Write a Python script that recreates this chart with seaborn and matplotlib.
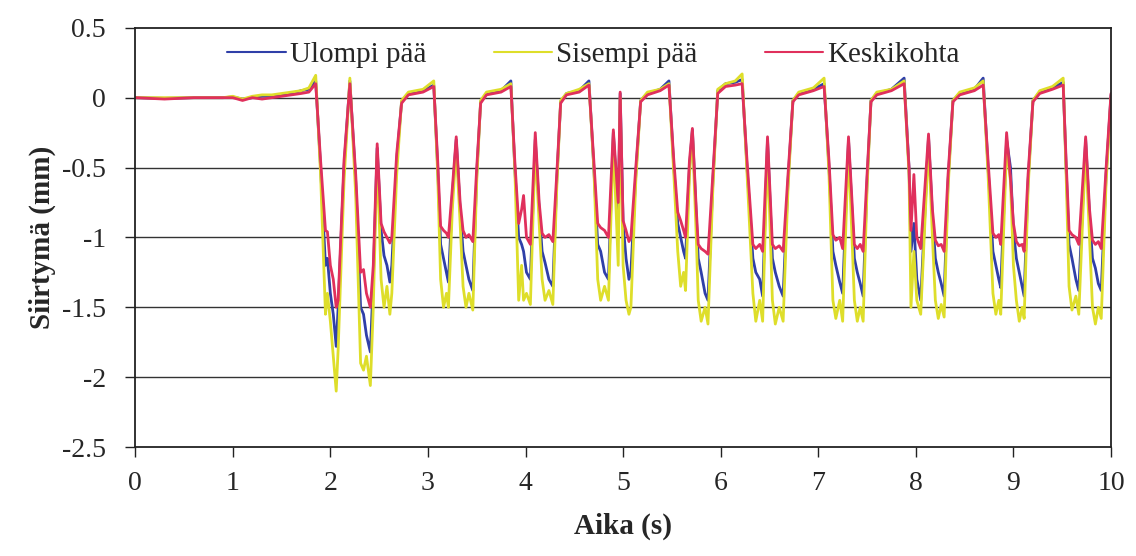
import pandas as pd
import numpy as np
import matplotlib
matplotlib.use('Agg')
import matplotlib.pyplot as plt
import seaborn as sns

# aika (s) ja siirtymät (mm), luettu kuvasta
aika = [0.0, 0.3, 0.6, 0.9, 1.0, 1.1, 1.2, 1.3, 1.4, 1.5, 1.6, 1.7, 1.78, 1.85,
        1.90, 1.95, 1.97, 2.00, 2.03, 2.06, 2.08, 2.14, 2.20,
        2.26, 2.31, 2.34, 2.37, 2.41, 2.44, 2.48, 2.52, 2.55, 2.58, 2.61, 2.63, 2.68, 2.73, 2.80, 2.95, 3.06,
        3.10, 3.13, 3.16, 3.19, 3.21, 3.25, 3.29, 3.33, 3.36, 3.39, 3.42, 3.46, 3.50, 3.54, 3.60, 3.75, 3.85,
        3.89, 3.93, 3.96, 3.98, 4.01, 4.05, 4.10, 4.14, 4.17, 4.20, 4.24, 4.28, 4.32, 4.36, 4.42, 4.55, 4.65,
        4.70, 4.74, 4.77, 4.81, 4.85, 4.90, 4.95, 4.97, 5.00, 5.03, 5.06, 5.08, 5.13, 5.18, 5.25, 5.38, 5.47,
        5.52, 5.56, 5.59, 5.62, 5.64, 5.68, 5.71, 5.75, 5.77, 5.80, 5.84, 5.87, 5.92, 5.97, 6.05, 6.15, 6.22,
        6.27, 6.33, 6.36, 6.40, 6.43, 6.48, 6.53, 6.56, 6.60, 6.64, 6.69, 6.74, 6.80, 6.95, 7.06,
        7.11, 7.15, 7.18, 7.22, 7.25, 7.31, 7.37, 7.40, 7.43, 7.46, 7.50, 7.54, 7.60, 7.75, 7.88,
        7.93, 7.95, 7.98, 8.01, 8.05, 8.13, 8.17, 8.20, 8.23, 8.26, 8.29, 8.33, 8.38, 8.45, 8.60, 8.69,
        8.74, 8.79, 8.82, 8.85, 8.87, 8.93, 8.97, 9.00, 9.03, 9.06, 9.09, 9.11, 9.15, 9.20, 9.27, 9.40, 9.51,
        9.54, 9.57, 9.60, 9.64, 9.67, 9.74, 9.78, 9.81, 9.84, 9.87, 9.90, 9.95, 10.0]

ulompi = [0.0, -0.005, 0.0, 0.0, 0.005, -0.01, 0.0, 0.01, 0.01, 0.02, 0.03, 0.05, 0.06, 0.12,
          -0.5, -1.2, -1.15, -1.4, -1.55, -1.78, -1.5, -0.5, 0.12,
          -0.6, -1.5, -1.55, -1.7, -1.82, -1.3, -0.36, -0.95, -1.13, -1.2, -1.32, -1.2, -0.45, -0.03, 0.03, 0.05, 0.09,
          -0.5, -1.05, -1.15, -1.25, -1.32, -0.7, -0.3, -0.8, -1.1, -1.2, -1.3, -1.38, -0.55, -0.03, 0.03, 0.05, 0.12,
          -0.5, -1.0, -1.05, -1.1, -1.25, -1.3, -0.3, -0.8, -1.1, -1.18, -1.3, -1.35, -0.6, -0.03, 0.03, 0.05, 0.12,
          -0.5, -1.05, -1.1, -1.25, -1.3, -0.25, -0.85, 0.03, -0.9, -1.15, -1.3, -1.25, -0.55, -0.02, 0.03, 0.06, 0.12,
          -0.5, -0.9, -1.0, -1.1, -1.15, -0.5, -0.23, -0.85, -1.15, -1.25, -1.4, -1.45, -0.6, 0.05, 0.1, 0.11, 0.13,
          -0.5, -1.15, -1.25, -1.3, -1.42, -0.3, -1.15, -1.25, -1.35, -1.42, -0.6, -0.02, 0.03, 0.06, 0.1,
          -0.5, -1.1, -1.2, -1.32, -1.4, -0.3, -1.15, -1.25, -1.33, -1.42, -0.6, -0.02, 0.03, 0.06, 0.14,
          -0.5, -1.1, -0.9, -1.3, -1.45, -0.28, -0.85, -1.15, -1.25, -1.33, -1.42, -0.6, -0.02, 0.03, 0.06, 0.14,
          -0.5, -1.1, -1.2, -1.3, -1.36, -0.3, -0.5, -0.95, -1.15, -1.25, -1.35, -1.42, -0.6, -0.02, 0.04, 0.07, 0.11,
          -0.5, -1.05, -1.15, -1.3, -1.38, -0.3, -0.85, -1.15, -1.22, -1.33, -1.38, -0.55, 0.02]

sisempi = [0.0, 0.0, 0.0, 0.0, 0.01, -0.01, 0.01, 0.02, 0.02, 0.03, 0.04, 0.05, 0.07, 0.16,
           -0.55, -1.55, -1.4, -1.6, -1.85, -2.1, -1.8, -0.6, 0.14,
           -0.7, -1.9, -1.95, -1.85, -2.06, -1.5, -0.4, -1.3, -1.5, -1.35, -1.55, -1.4, -0.55, -0.02, 0.04, 0.06, 0.12,
           -0.55, -1.3, -1.5, -1.4, -1.5, -0.8, -0.35, -0.9, -1.35, -1.5, -1.4, -1.52, -0.6, -0.02, 0.04, 0.06, 0.1,
           -0.5, -1.45, -1.2, -1.45, -1.4, -1.48, -0.33, -0.9, -1.3, -1.45, -1.38, -1.48, -0.65, -0.02, 0.03, 0.06, 0.1,
           -0.5, -1.3, -1.45, -1.35, -1.45, -0.3, -1.2, 0.0, -1.2, -1.45, -1.55, -1.5, -0.6, -0.02, 0.04, 0.06, 0.1,
           -0.55, -1.1, -1.35, -1.25, -1.38, -0.55, -0.25, -1.0, -1.45, -1.6, -1.5, -1.62, -0.65, 0.06, 0.1, 0.12, 0.17,
           -0.55, -1.4, -1.6, -1.45, -1.6, -0.35, -1.45, -1.62, -1.5, -1.6, -0.65, -0.02, 0.04, 0.07, 0.14,
           -0.55, -1.45, -1.58, -1.45, -1.6, -0.35, -1.45, -1.6, -1.5, -1.6, -0.65, -0.02, 0.04, 0.06, 0.12,
           -0.55, -1.5, -1.1, -1.45, -1.55, -0.32, -1.0, -1.45, -1.58, -1.48, -1.57, -0.65, -0.02, 0.04, 0.07, 0.12,
           -0.55, -1.4, -1.55, -1.45, -1.55, -0.35, -0.6, -1.2, -1.45, -1.6, -1.5, -1.58, -0.65, -0.02, 0.05, 0.08, 0.14,
           -0.55, -1.35, -1.52, -1.42, -1.55, -0.35, -1.0, -1.5, -1.62, -1.5, -1.58, -0.6, 0.0]

keskikohta = [0.0, -0.01, 0.0, 0.0, 0.0, -0.02, 0.0, -0.01, 0.0, 0.01, 0.02, 0.03, 0.04, 0.1,
              -0.45, -0.95, -0.96, -1.2, -1.3, -1.5, -1.45, -0.45, 0.1,
              -0.55, -1.25, -1.23, -1.4, -1.5, -1.2, -0.33, -0.9, -0.96, -1.0, -1.04, -1.0, -0.4, -0.04, 0.02, 0.04, 0.08,
              -0.45, -0.92, -0.95, -0.97, -1.0, -0.65, -0.28, -0.75, -0.95, -1.0, -0.98, -1.03, -0.5, -0.04, 0.02, 0.04, 0.08,
              -0.45, -0.9, -0.8, -0.7, -1.0, -1.05, -0.25, -0.75, -0.97, -1.0, -0.98, -1.03, -0.55, -0.04, 0.02, 0.04, 0.09,
              -0.45, -0.9, -0.93, -0.95, -1.0, -0.23, -0.75, 0.04, -0.88, -0.95, -1.03, -1.0, -0.5, -0.03, 0.02, 0.05, 0.09,
              -0.45, -0.82, -0.88, -0.95, -1.0, -0.45, -0.22, -0.8, -1.05, -1.08, -1.1, -1.12, -0.55, 0.03, 0.08, 0.09, 0.1,
              -0.45, -1.05, -1.08, -1.05, -1.1, -0.28, -1.05, -1.08, -1.06, -1.1, -0.55, -0.03, 0.02, 0.05, 0.08,
              -0.45, -0.98, -1.02, -1.0, -1.08, -0.28, -1.05, -1.08, -1.05, -1.1, -0.55, -0.03, 0.02, 0.05, 0.1,
              -0.5, -0.95, -0.55, -1.0, -1.08, -0.26, -0.8, -1.02, -1.06, -1.05, -1.1, -0.55, -0.03, 0.02, 0.05, 0.09,
              -0.45, -0.97, -1.0, -0.98, -1.05, -0.25, -0.58, -0.9, -1.03, -1.06, -1.05, -1.1, -0.55, -0.03, 0.03, 0.06, 0.09,
              -0.45, -0.95, -0.98, -1.0, -1.05, -0.28, -0.8, -1.02, -1.05, -1.03, -1.08, -0.5, 0.03]

sarjat = ['Ulompi pää', 'Sisempi pää', 'Keskikohta']
varit = ['#2f3fa8', '#dede2a', '#e0305c']

df = pd.DataFrame({'Aika': aika, 'Ulompi pää': ulompi, 'Sisempi pää': sisempi, 'Keskikohta': keskikohta})
df = df.melt(id_vars='Aika', var_name='Sarja', value_name='Siirtymä')

sns.set_style('white')
plt.rcParams['font.family'] = ['Liberation Serif', 'DejaVu Serif']

fig = plt.figure(figsize=(11.36, 5.56), dpi=100)
ax = fig.add_axes([0.119, 0.196, 0.859, 0.754])

for nimi, vari in zip(sarjat, varit):
    sns.lineplot(data=df[df['Sarja'] == nimi], x='Aika', y='Siirtymä', color=vari,
                 linewidth=2.0, label=nimi, ax=ax, estimator=None, sort=False)

ax.set_xlim(0, 10)
ax.set_ylim(-2.5, 0.5)
ax.set_xticks(range(0, 11))
ax.set_yticks([0.5, 0, -0.5, -1, -1.5, -2, -2.5])
ax.set_yticklabels(['0.5', '0', '-0.5', '-1', '-1.5', '-2', '-2.5'])
ax.tick_params(axis='both', labelsize=20, direction='out', length=7, width=1, color='#222222',
               left=True, bottom=True)
ax.tick_params(axis='y', pad=14)
ax.tick_params(axis='x', pad=10)

for y in [0, -0.5, -1, -1.5, -2]:
    ax.axhline(y, color='#333333', linewidth=1.0, zorder=0)

for s in ax.spines.values():
    s.set_color('#222222')
    s.set_linewidth(1.3)

ax.set_xlabel('Aika (s)', fontsize=21, fontweight='bold', labelpad=12)
ax.set_ylabel('Siirtymä (mm)', fontsize=21, fontweight='bold', labelpad=4)

leg = ax.legend(loc='upper center', bbox_to_anchor=(0.47, 1.03), ncol=3, frameon=False, fontsize=21,
                handlelength=2.0, handletextpad=0.15, columnspacing=2.3)
for h in leg.get_lines():
    h.set_linewidth(1.5)

fig.savefig('out.png', dpi=100)
